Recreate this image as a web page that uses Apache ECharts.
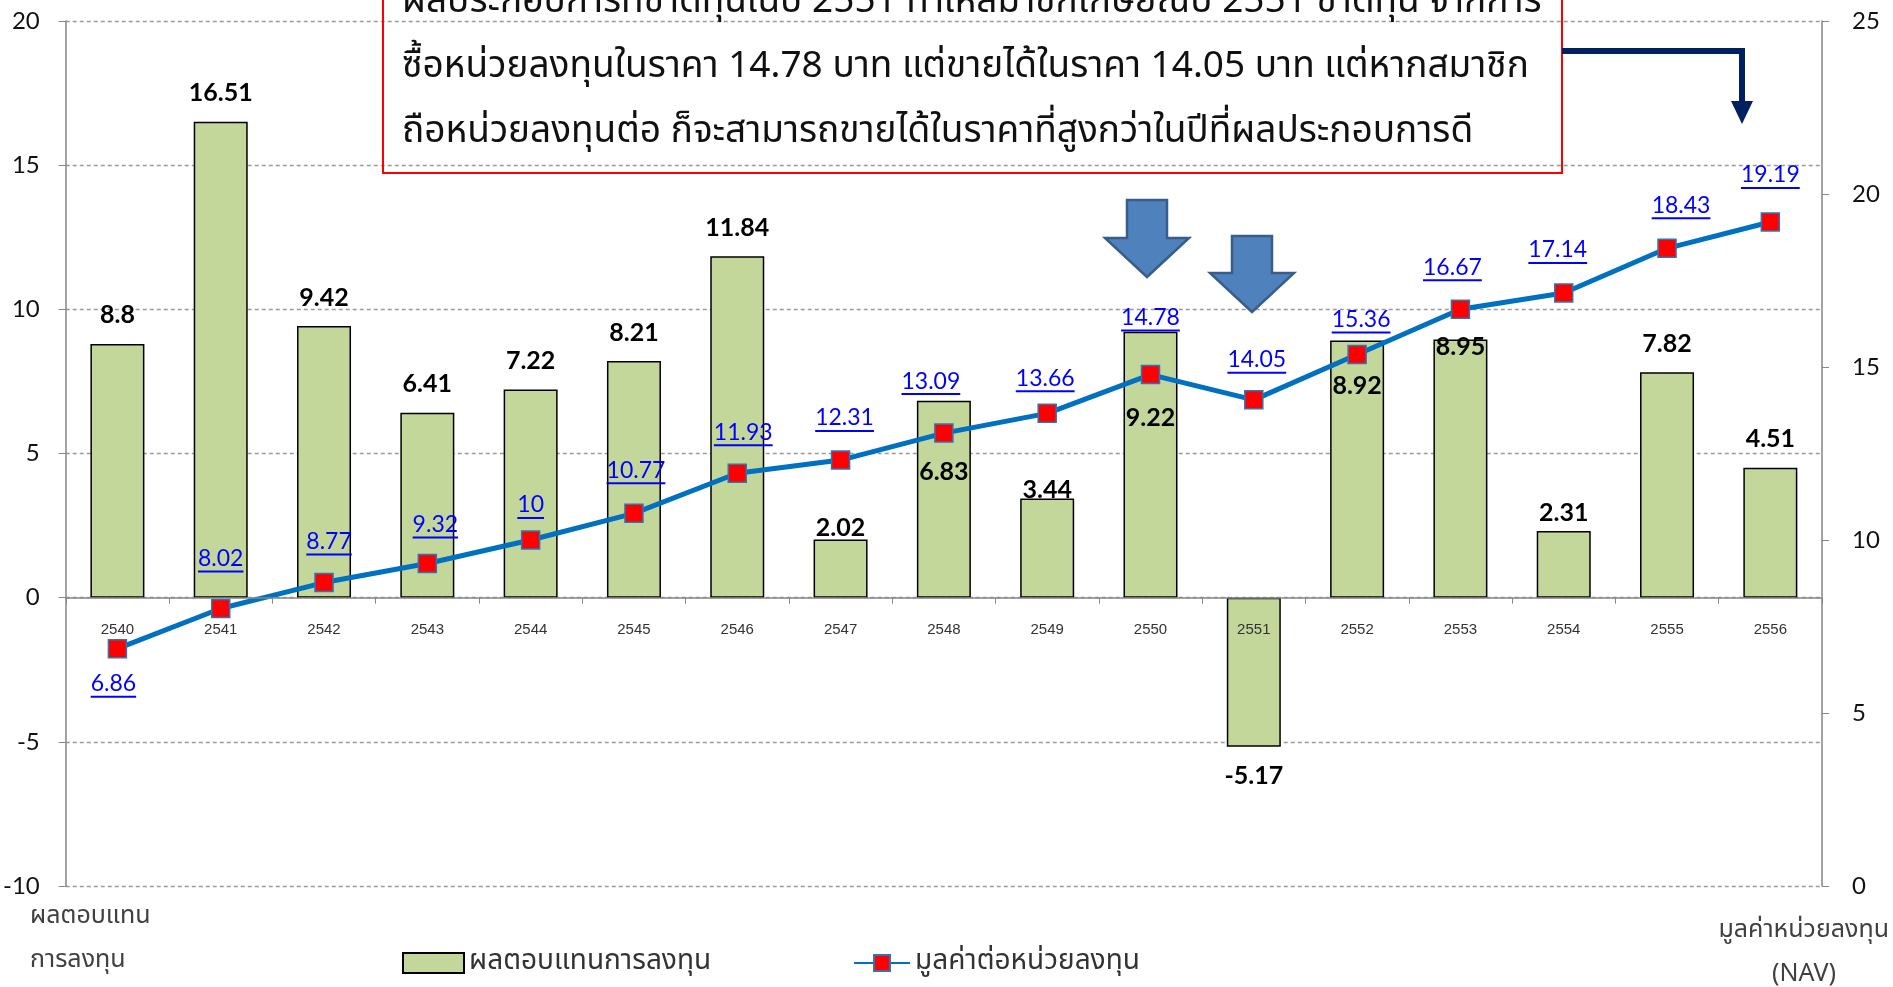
<!DOCTYPE html>
<html>
<head>
<meta charset="utf-8">
<script src="https://cdn.jsdelivr.net/npm/echarts@6/dist/echarts.min.js"></script>
<style>
  html, body { margin: 0; padding: 0; background: #fff; }
  #chart { width: 1893px; height: 987px; }
</style>
</head>
<body>
<div id="chart"></div>
<script>
// ข้อมูล
const years = ['2540','2541','2542','2543','2544','2545','2546','2547','2548','2549','2550','2551','2552','2553','2554','2555','2556']
const returns = [8.8, 16.51, 9.42, 6.41, 7.22, 8.21, 11.84, 2.02, 6.83, 3.44, 9.22, -5.17, 8.92, 8.95, 2.31, 7.82, 4.51]
const navs = [6.86, 8.02, 8.77, 9.32, 10, 10.77, 11.93, 12.31, 13.09, 13.66, 14.78, 14.05, 15.36, 16.67, 17.14, 18.43, 19.19]

const barName = 'ผลตอบแทนการลงทุน'
const lineName = 'มูลค่าต่อหน่วยลงทุน'
const noteLines = [
  'ผลประกอบการที่ขาดทุนในปี 2551 ทำให้สมาชิกเกษียณปี 2551 ขาดทุน จากการ',
  'ซื้อหน่วยลงทุนในราคา 14.78 บาท แต่ขายได้ในราคา 14.05 บาท แต่หากสมาชิก',
  'ถือหน่วยลงทุนต่อ ก็จะสามารถขายได้ในราคาที่สูงกว่าในปีที่ผลประกอบการดี'
]

// label placement tweaks (px)
const barLabelShift = { '2547': 17, '2548': 100, '2549': 20, '2550': 115, '2552': 74, '2553': 36, '2554': 10 }
const navLabelShift = {
  '2540': [-4, 35], '2541': [0, -50], '2542': [5, -41], '2543': [8, -39], '2544': [0, -35],
  '2545': [2, -43], '2546': [6, -41], '2547': [4, -42], '2548': [-13, -52], '2549': [-2, -35],
  '2550': [0, -57], '2551': [3, -40], '2552': [4, -35], '2553': [-8, -42], '2554': [-6, -43],
  '2555': [14, -43], '2556': [0, -47]
}

const numFont = 'Lato, "Open Sans", sans-serif'
const thaiFont = '"Noto Sans Thai", "Noto Sans", "DejaVu Sans", sans-serif'
const navFont = '23px Lato, "Open Sans", sans-serif'
const measureCtx = document.createElement('canvas').getContext('2d')

const gridTop = 21, gridBottom = 101
const gridH = 987 - gridTop - gridBottom
const leftMin = -10, leftMax = 20
// ยกแกน x ขึ้นมาที่ระดับ 0 ของแกนซ้าย
const xAxisLift = gridH * (0 - leftMin) / (leftMax - leftMin)

const chart = echarts.init(document.getElementById('chart'))

const barData = returns.map((v, i) => {
  const y = years[i]
  if (v < 0) return { value: v, label: { position: 'bottom', distance: 17 } }
  return { value: v, label: { position: 'top', distance: 16, offset: [0, barLabelShift[y] || 0] } }
})

// block arrow polygon
const blockArrow = (cx, top, headY, tip) => ({
  type: 'polygon',
  shape: { points: [[cx - 20, top], [cx + 20, top], [cx + 20, headY], [cx + 42, headY], [cx, tip], [cx - 42, headY], [cx - 20, headY]] },
  style: { fill: '#4f81bd', stroke: '#385d8a', lineWidth: 2.5 },
  z: 100
})

chart.setOption({
  animation: false,
  grid: { left: 62, right: 71, top: gridTop, bottom: gridBottom },
  legend: [
    {
      data: [{ name: barName, icon: 'rect' }], left: 397, top: 944, itemWidth: 61, itemHeight: 20,
      textStyle: { fontSize: 28, color: '#333', fontFamily: thaiFont }
    },
    {
      data: [lineName], left: 848, top: 944, itemWidth: 56, itemHeight: 20,
      textStyle: { fontSize: 28, color: '#333', fontFamily: thaiFont }
    }
  ],
  xAxis: {
    type: 'category',
    data: years,
    z: 10,
    offset: -xAxisLift,
    axisLine: { onZero: false, lineStyle: { color: '#868686', width: 1.5 } },
    axisTick: { show: true, length: 6, lineStyle: { color: '#868686' } },
    axisLabel: { fontSize: 15, color: '#333', margin: 25, fontFamily: '"Liberation Sans", Arial, sans-serif' }
  },
  yAxis: [
    {
      type: 'value', min: leftMin, max: leftMax, interval: 5,
      axisLine: { show: true, lineStyle: { color: '#868686', width: 1.5 } },
      axisTick: { show: true, length: 7, lineStyle: { color: '#868686' } },
      axisLabel: { fontSize: 24, color: '#111', margin: 26, fontFamily: numFont },
      splitLine: { show: true, lineStyle: { color: '#9a9a9a', type: [4, 3], width: 1.3 } }
    },
    {
      type: 'value', min: 0, max: 25, interval: 5,
      axisLine: { show: true, lineStyle: { color: '#868686', width: 1.5 } },
      axisTick: { show: true, length: 7, lineStyle: { color: '#868686' } },
      axisLabel: { fontSize: 24, color: '#111', margin: 30, fontFamily: numFont },
      splitLine: { show: false }
    }
  ],
  series: [
    {
      name: barName,
      type: 'bar',
      yAxisIndex: 0,
      barWidth: 54,
      data: barData,
      itemStyle: { color: '#c4d79b', borderColor: '#000', borderWidth: 1.5 },
      label: { show: true, fontSize: 25, fontWeight: 'bold', color: '#000', fontFamily: numFont },
      z: 2
    },
    {
      name: lineName,
      type: 'line',
      yAxisIndex: 1,
      data: navs,
      symbol: 'rect',
      symbolSize: 18,
      lineStyle: { color: '#0070c0', width: 5 },
      itemStyle: { color: '#ff0000', borderColor: '#2e75b6', borderWidth: 1.5 },
      z: 4
    },
    {
      // ป้ายค่า NAV แบบขีดเส้นใต้
      type: 'custom',
      yAxisIndex: 1,
      silent: true,
      z: 6,
      data: navs.map((v, i) => [i, v]),
      renderItem: (params, api) => {
        const i = api.value(0)
        const p = api.coord([i, api.value(1)])
        const sh = navLabelShift[years[i]] || [0, -42]
        const txt = String(navs[i])
        measureCtx.font = navFont
        const w = measureCtx.measureText(txt).width
        const cx = p[0] + sh[0], cy = p[1] + sh[1]
        return {
          type: 'group',
          children: [
            { type: 'text', x: cx, y: cy, style: { text: txt, font: navFont, fill: '#0000ff', align: 'center', verticalAlign: 'middle' } },
            { type: 'line', shape: { x1: cx - w / 2, y1: cy + 13, x2: cx + w / 2, y2: cy + 13 }, style: { stroke: '#0000ff', lineWidth: 2 } }
          ]
        }
      }
    }
  ],
  graphic: [
    // กล่องข้อความ
    { type: 'rect', shape: { x: 383, y: -10, width: 1179, height: 183 }, style: { fill: 'transparent', stroke: '#ff0000', lineWidth: 2 }, z: 90 },
    ...noteLines.map((t, k) => ({
      type: 'text', x: 402, y: 5 + k * 65, z: 91,
      style: { text: t, font: '37px ' + thaiFont, fill: '#111', verticalAlign: 'middle' }
    })),
    // elbow connector
    { type: 'polyline', shape: { points: [[1562, 51], [1742, 51], [1742, 106]] }, style: { stroke: '#002060', lineWidth: 6, fill: null }, z: 95 },
    { type: 'polygon', shape: { points: [[1731, 101], [1753, 101], [1742, 124]] }, style: { fill: '#002060' }, z: 95 },
    blockArrow(1147, 200, 238, 277),
    blockArrow(1252, 236, 273, 312),
    // axis names
    { type: 'text', x: 30, y: 918, style: { text: 'ผลตอบแทน', font: '25px ' + thaiFont, fill: '#404040', verticalAlign: 'middle' } },
    { type: 'text', x: 30, y: 962, style: { text: 'การลงทุน', font: '25px ' + thaiFont, fill: '#404040', verticalAlign: 'middle' } },
    { type: 'text', x: 1889, y: 932, style: { text: 'มูลค่าหน่วยลงทุน', font: '25px ' + thaiFont, fill: '#404040', align: 'right', verticalAlign: 'middle' } },
    { type: 'text', x: 1804, y: 976, style: { text: '(NAV)', font: '25px ' + thaiFont, fill: '#404040', align: 'center', verticalAlign: 'middle' } }
  ]
})
</script>
</body>
</html>
